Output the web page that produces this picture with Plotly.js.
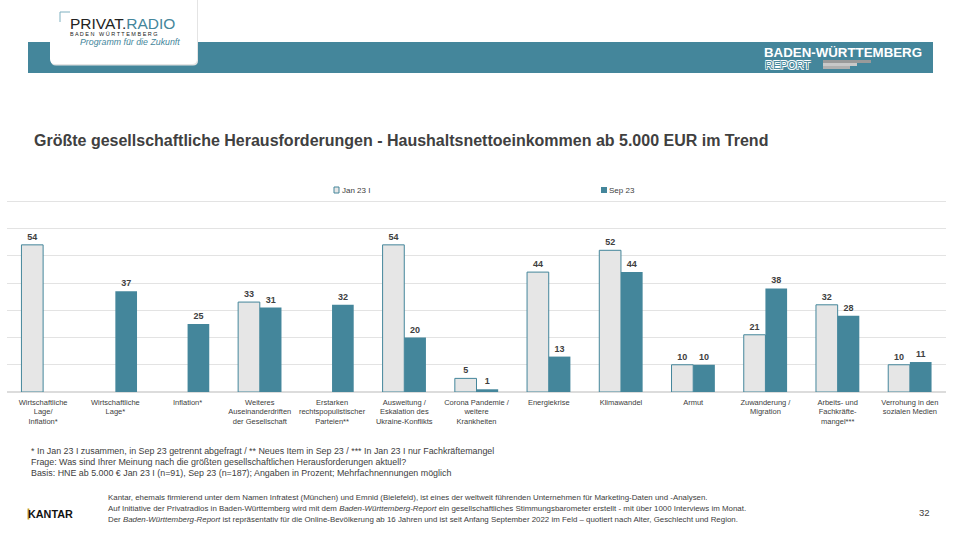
<!DOCTYPE html>
<html>
<head>
<meta charset="utf-8">
<script src="https://cdn.plot.ly/plotly-3.0.1.min.js"></script>
<style>html,body{margin:0;padding:0;background:#fff;}#chart{width:960px;height:540px;}</style>
</head>
<body>
<div id="chart"></div>
<script>
const categories = [
  "Wirtschaftliche<br>Lage/<br>Inflation*",
  "Wirtschaftliche<br>Lage*",
  "Inflation*",
  "Weiteres<br>Auseinanderdriften<br>der Gesellschaft",
  "Erstarken<br>rechtspopulistischer<br>Parteien**",
  "Ausweitung /<br>Eskalation des<br>Ukraine-Konflikts",
  "Corona Pandemie /<br>weitere<br>Krankheiten",
  "Energiekrise",
  "Klimawandel",
  "Armut",
  "Zuwanderung /<br>Migration",
  "Arbeits- und<br>Fachkräfte-<br>mangel***",
  "Verrohung in den<br>sozialen Medien"
];
const janValues = [54, null, null, 33, null, 54, 5, 44, 52, 10, 21, 32, 10];
const sepValues = [null, 37, 25, 31, 32, 20, 1, 13, 44, 10, 38, 28, 11];
const seriesNames = ["Jan 23 I", "Sep 23"];

const TEAL = "#44869B";
const GREY = "#E6E6E6";
const TXT = "#404040";
const FONT = "Liberation Sans, Arial, sans-serif";

const W = 960, H = 540, L = 7, R = 14, T = 174, B = 148;
const PW = W - L - R, PH = H - T - B;
const px = x => (x - L) / PW;
const py = y => (H - B - y) / PH;

const traces = [
  {
    type: "bar", name: seriesNames[0], x: categories, y: janValues,
    marker: {color: GREY, line: {color: TEAL, width: 1}},
    text: janValues.map(v => v === null ? "" : String(v)),
    textposition: "outside", cliponaxis: false,
    textfont: {family: FONT, size: 9, color: TXT, weight: "bold"},
    hoverinfo: "skip", showlegend: false
  },
  {
    type: "bar", name: seriesNames[1], x: categories, y: sepValues,
    marker: {color: TEAL, line: {color: TEAL, width: 0}},
    text: sepValues.map(v => v === null ? "" : String(v)),
    textposition: "outside", cliponaxis: false,
    textfont: {family: FONT, size: 9, color: TXT, weight: "bold"},
    hoverinfo: "skip", showlegend: false
  }
];

function ann(x, y, text, size, opts) {
  return Object.assign({
    xref: "paper", yref: "paper", x: px(x), y: py(y), text: text,
    showarrow: false, xanchor: "left", yanchor: "middle",
    font: {family: FONT, size: size, color: TXT}
  }, opts || {});
}
function rect(x0, y0, x1, y1, fill, extra) {
  return Object.assign({type: "rect", xref: "paper", yref: "paper",
    x0: px(x0), x1: px(x1), y0: py(y1), y1: py(y0),
    fillcolor: fill, line: {width: 0}, layer: "above"}, extra || {});
}
function line(x0, y0, x1, y1, color, w) {
  return {type: "line", xref: "paper", yref: "paper", x0: px(x0), x1: px(x1), y0: py(y0), y1: py(y1),
    line: {color: color, width: w}, layer: "above"};
}
function rrect(x0, y0, x1, y1, r, fill, lineCol) {
  const X0 = px(x0), X1 = px(x1), Y0 = py(y0), Y1 = py(y1);
  const rx = r / PW, ry = r / PH;
  const p = `M${X0},${Y0} L${X1},${Y0} L${X1},${Y1 + ry} Q${X1},${Y1} ${X1 - rx},${Y1} L${X0 + rx},${Y1} Q${X0},${Y1} ${X0},${Y1 + ry} Z`;
  return {type: "path", xref: "paper", yref: "paper", path: p, fillcolor: fill,
    line: {color: lineCol || fill, width: lineCol ? 1 : 0}, layer: "above"};
}

const shapes = [
  rect(28, 42, 933, 73, TEAL),
  rrect(51, -5, 198, 65.5, 5, "#e4e4e4"),
  rrect(50, -5, 197, 64, 5, "#ffffff"),
  line(60, 12, 70, 12, "#7fb0c0", 1),
  line(60, 12, 60, 22, "#7fb0c0", 1),
  rect(823, 60, 871, 63, "#9a9a9a"),
  rect(823, 63, 857, 66, "#c8c8c8"),
  rect(823, 66, 850, 69, "#b0b0b0"),
  // legend swatches
  rect(334, 187, 339, 193, GREY, {line: {color: TEAL, width: 1}}),
  rect(601, 187, 607, 193, TEAL),
  // Kantar accent
  rect(27.5, 508.5, 29.3, 519.5, "#c9a227")
];

const outline = "-0.6px -0.6px 0 #fff, 0.6px -0.6px 0 #fff, -0.6px 0.6px 0 #fff, 0.6px 0.6px 0 #fff";

const annotations = [
  ann(32, 141, "<b>Größte gesellschaftliche Herausforderungen - Haushaltsnettoeinkommen ab 5.000 EUR im Trend</b>", 16, {font: {family: FONT, size: 16, color: TXT}}),
  ann(68, 23, "PRIVAT.<span style='color:" + TEAL + "'>RADIO</span>", 15.5, {font: {family: FONT, size: 15.5, color: "#222", weight: 500}}),
  ann(68, 34, "B A D E N   W Ü R T T E M B E R G", 5.5, {font: {family: FONT, size: 5.5, color: "#222"}}),
  ann(78, 42, "<i>Programm für die Zukunft</i>", 8.8, {font: {family: FONT, size: 8.8, color: TEAL}}),
  ann(762, 52, "<b>BADEN-WÜRTTEMBERG</b>", 13.3, {font: {family: FONT, size: 13.3, color: "#ffffff"}}),
  ann(763, 65.5, "REPORT", 11, {font: {family: FONT, size: 11, color: TEAL, shadow: outline}}),
  ann(340, 190, seriesNames[0], 8),
  ann(607, 190, seriesNames[1], 8),
  ann(29, 451, "* In Jan 23 I zusammen, in Sep 23 getrennt abgefragt / ** Neues Item in Sep 23 / *** In Jan 23 I nur Fachkräftemangel", 8.9),
  ann(29, 462, "Frage: Was sind Ihrer Meinung nach die größten gesellschaftlichen Herausforderungen aktuell?", 8.9),
  ann(29, 473, "Basis: HNE ab 5.000 € Jan 23 I (n=91), Sep 23 (n=187); Angaben in Prozent; Mehrfachnennungen möglich", 8.9),
  ann(25.5, 514, "<b>KANTAR</b>", 10.8, {font: {family: FONT, size: 10.8, color: "#111"}}),
  ann(106, 497, "Kantar, ehemals firmierend unter dem Namen Infratest (München) und Emnid (Bielefeld), ist eines der weltweit führenden Unternehmen für Marketing-Daten und -Analysen.", 7.9),
  ann(106, 508, "Auf Initiative der Privatradios in Baden-Württemberg wird mit dem <i>Baden-Württemberg-Report</i> ein gesellschaftliches Stimmungsbarometer erstellt - mit über 1000 Interviews im Monat.", 7.9),
  ann(106, 519, "Der <i>Baden-Württemberg-Report</i> ist repräsentativ für die Online-Bevölkerung ab 16 Jahren und ist seit Anfang September 2022 im Feld – quotiert nach Alter, Geschlecht und Region.", 7.9),
  ann(932, 512, "32", 9.5, {xanchor: "right"})
];

const layout = {
  width: W, height: H,
  margin: {l: L, r: R, t: T, b: B, pad: 0},
  paper_bgcolor: "#ffffff", plot_bgcolor: "#ffffff",
  font: {family: FONT, color: TXT},
  barmode: "group", bargap: 0.4, bargroupgap: 0,
  showlegend: false,
  xaxis: {type: "category", showgrid: false, zeroline: false, showline: false, ticks: "",
    ticklabelstandoff: 4,
    tickfont: {family: FONT, size: 7.5, color: TXT}, tickangle: 0, automargin: false, fixedrange: true},
  yaxis: {range: [0, 80], dtick: 10, showgrid: true, gridcolor: "#e3e3e3", gridwidth: 1,
    zeroline: true, zerolinecolor: "#dcdcdc", zerolinewidth: 1.5, showticklabels: false, ticks: "",
    automargin: false, fixedrange: true},
  shapes: shapes,
  annotations: annotations
};

Plotly.newPlot("chart", traces, layout, {displayModeBar: false, staticPlot: true});
</script>
</body>
</html>
